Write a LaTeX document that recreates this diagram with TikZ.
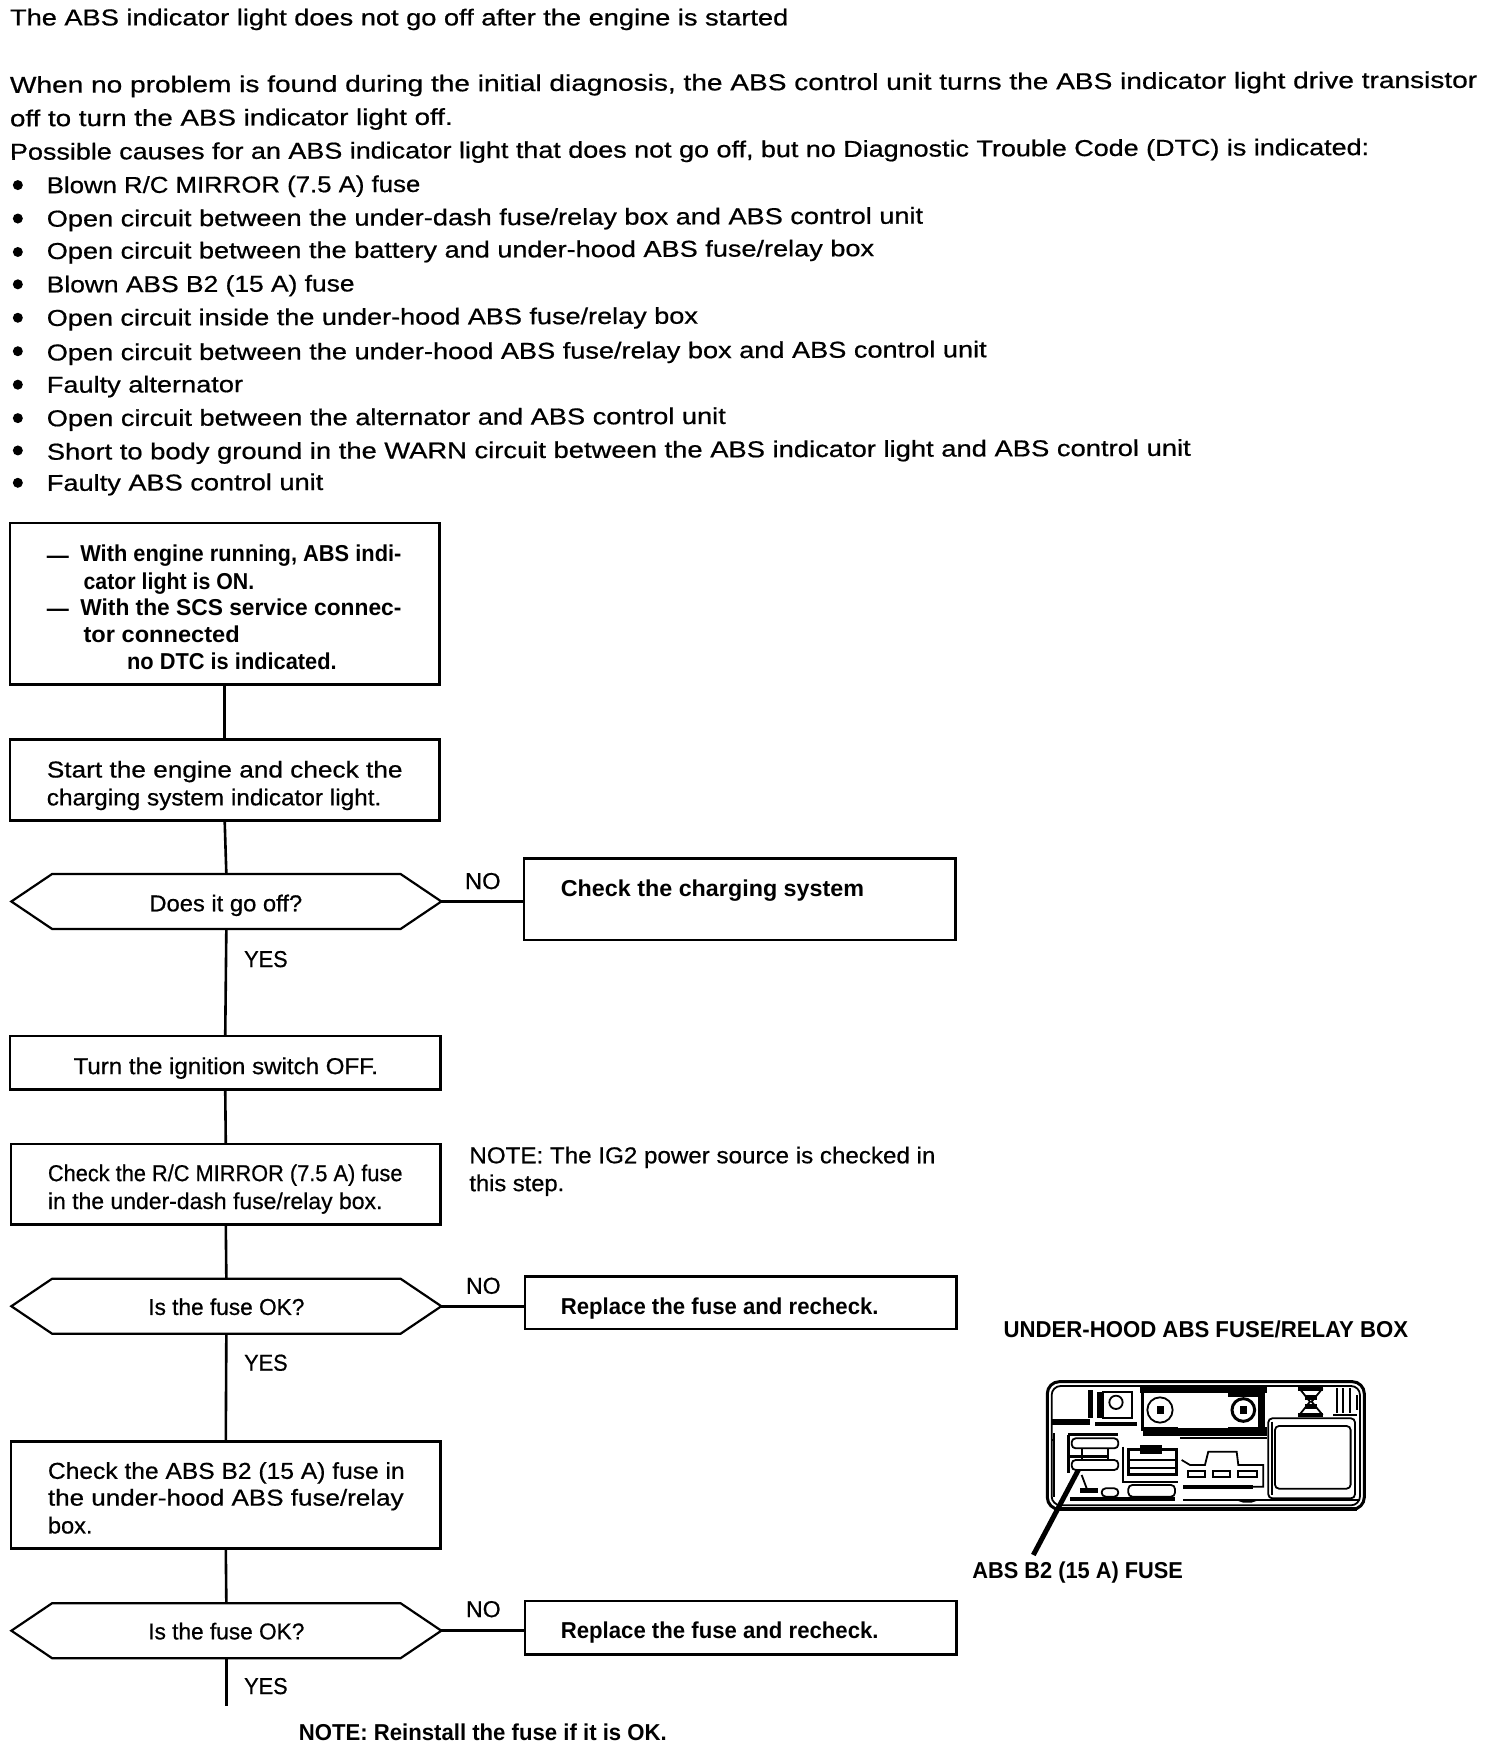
\documentclass[tikz,border=0pt]{standalone}
\usepackage{fontspec}
\usepackage{graphicx}
\setmainfont{Liberation Sans}
\newfontfamily\regfam[FakeBold=0.6]{Liberation Sans}
\usetikzlibrary{shapes.symbols}
\newcommand\regf{\regfam\fontsize{23}{26}\selectfont}
\newcommand\bldf{\fontsize{23}{26}\selectfont\bfseries}
% name, x0, x1, yc, font, text, rotation
\newcommand\tline[7][0]{\pgfmathsetmacro\tlw{(#4-#3)*1.115}%
  \node[txt,rotate=#1] (#2) at (#3,#5) {\resizebox{\tlw pt}{\height}{#6#7}};}
\newcommand\bxn[5]{\pgfmathsetmacro\bxw{(#3-#2)*1.115}\pgfmathsetmacro\bxh{(#5-#4)*1.115}%
  \node[boxst,minimum width=\bxw pt,minimum height=\bxh pt] (#1) at ({(#2+#3)/2},{(#4+#5)/2}) {};}
\newcommand\hxn[3]{\node[hexst] (#1) at (#2,#3) {};}
\tikzset{
  txt/.style={anchor=mid west,inner sep=0pt,outer sep=0pt,text=black,yshift=-5.5pt},
  boxst/.style={draw=black,line width=2.6pt,inner sep=0pt,outer sep=0pt,fill=white},
  hexst/.style={draw=black,line width=2.2pt,shape=signal,signal to=east and west,signal pointer angle=68,
     minimum width=430pt,minimum height=55pt,inner sep=0pt,outer sep=0pt,fill=white},
  conn/.style={draw=black,line width=2.6pt},
  bul/.style={circle,fill=black,minimum size=10pt,inner sep=0pt,outer sep=0pt},
  fb/.style={draw=black,line width=1.8pt},
  fbk/.style={draw=black,line width=3pt},
}
\begin{document}
\begin{tikzpicture}[x=1.115pt,y=-1.115pt]
\useasboundingbox[fill=white] (0,0) rectangle (1334.53,1567.71);
% header
\tline{t1}{9}{707}{15.5}{\regf}{The ABS indicator light does not go off after the engine is started}
\tline[0.2]{t2}{9}{1325}{76}{\regf}{When no problem is found during the initial diagnosis, the ABS control unit turns the ABS indicator light drive transistor}
\tline[0.2]{t3}{9}{406}{106}{\regf}{off to turn the ABS indicator light off.}
\tline[0.2]{t4}{9}{1228}{136}{\regf}{Possible causes for an ABS indicator light that does not go off, but no Diagnostic Trouble Code (DTC) is indicated:}
\foreach \n/\yy in {a/166,b/196,c/226,d/255,e/285,f/315,g/345,h/375,i/404,j/433}{\node[bul] (bul\n) at (16,\yy) {};}
\tline[0.2]{la}{42}{377}{166}{\regf}{Blown R/C MIRROR (7.5 A) fuse}
\tline[0.2]{lb}{42}{828}{196}{\regf}{Open circuit between the under-dash fuse/relay box and ABS control unit}
\tline[0.2]{lc}{42}{784}{225}{\regf}{Open circuit between the battery and under-hood ABS fuse/relay box}
\tline[0.2]{ld}{42}{318}{255}{\regf}{Blown ABS B2 (15 A) fuse}
\tline[0.2]{le}{42}{626}{285}{\regf}{Open circuit inside the under-hood ABS fuse/relay box}
\tline[0.2]{lf}{42}{885}{316}{\regf}{Open circuit between the under-hood ABS fuse/relay box and ABS control unit}
\tline[0.2]{lg}{42}{218}{345}{\regf}{Faulty alternator}
\tline[0.2]{lh}{42}{651}{375}{\regf}{Open circuit between the alternator and ABS control unit}
\tline[0.2]{li}{42}{1068}{405}{\regf}{Short to body ground in the WARN circuit between the ABS indicator light and ABS control unit}
\tline[0.2]{lj}{42}{290}{433}{\regf}{Faulty ABS control unit}
% boxes
\bxn{b1}{9}{394}{469}{614}
\bxn{b2}{9}{394}{663}{736}
\hxn{h1}{203}{808.5}
\bxn{r1}{470}{857}{770}{843}
\bxn{b3}{9}{395}{929}{977}
\bxn{b4}{10}{395}{1026}{1098}
\hxn{h2}{203}{1171.5}
\bxn{r2}{471}{858}{1145}{1192}
\bxn{b5}{10}{395}{1293}{1389}
\hxn{h3}{203}{1462.5}
\bxn{r3}{471}{858}{1436}{1484}
\coordinate (endc) at (203,1530);
% connectors
\draw[conn] (b1.south) -- (b2.north);
\draw[conn] (b2.south) -- (h1.north);
\draw[conn] (h1.south) -- (b3.north);
\draw[conn] (b3.south) -- (b4.north);
\draw[conn] (b4.south) -- (h2.north);
\draw[conn] (h2.south) -- (b5.north);
\draw[conn] (b5.south) -- (h3.north);
\draw[conn] (h3.south) -- (endc);
\draw[conn] (h1.east) -- (h1.east -| r1.west);
\draw[conn] (h2.east) -- (h2.east -| r2.west);
\draw[conn] (h3.east) -- (h3.east -| r3.west);
% box texts
\node[txt] (d1) at (42,498) {\resizebox{22pt}{\height}{\bldf ---}};
\tline{b1a}{72}{360}{496}{\bldf}{With engine running, ABS indi-}
\tline{b1b}{75}{228}{521}{\bldf}{cator light is ON.}
\node[txt] (d2) at (42,546) {\resizebox{22pt}{\height}{\bldf ---}};
\tline{b1c}{72}{360}{545}{\bldf}{With the SCS service connec-}
\tline{b1d}{75}{215}{569}{\bldf}{tor connected}
\tline{b1e}{114}{302}{593}{\bldf}{no DTC is indicated.}
\tline{b2a}{42}{361}{690}{\regf}{Start the engine and check the}
\tline{b2b}{42}{342}{715}{\regf}{charging system indicator light.}
\tline{h1t}{134}{271}{810}{\regf}{Does it go off?}
\tline{r1t}{503}{775}{797}{\bldf}{Check the charging system}
\tline{no1}{417}{449}{790}{\regf}{NO}
\tline{ye1}{219}{258}{860}{\regf}{YES}
\tline{b3t}{66}{339}{956}{\regf}{Turn the ignition switch OFF.}
\tline{b4a}{43}{361}{1052}{\regf}{Check the R/C MIRROR (7.5 A) fuse}
\tline{b4b}{43}{343}{1077}{\regf}{in the under-dash fuse/relay box.}
\tline{na}{421}{839}{1036}{\regf}{NOTE: The IG2 power source is checked in}
\tline{nb}{421}{506}{1061}{\regf}{this step.}
\tline{h2t}{133}{273}{1172}{\regf}{Is the fuse OK?}
\tline{r2t}{503}{788}{1172}{\bldf}{Replace the fuse and recheck.}
\tline{no2}{418}{449}{1153}{\regf}{NO}
\tline{ye2}{219}{258}{1222}{\regf}{YES}
\tline{b5a}{43}{363}{1319}{\regf}{Check the ABS B2 (15 A) fuse in}
\tline{b5b}{43}{362}{1343}{\regf}{the under-hood ABS fuse/relay}
\tline{b5c}{43}{83}{1368}{\regf}{box.}
\tline{h3t}{133}{273}{1463}{\regf}{Is the fuse OK?}
\tline{r3t}{503}{788}{1462}{\bldf}{Replace the fuse and recheck.}
\tline{no3}{418}{449}{1443}{\regf}{NO}
\tline{ye3}{219}{258}{1512}{\regf}{YES}
\tline{nc}{268}{598}{1554}{\bldf}{NOTE: Reinstall the fuse if it is OK.}
\tline{ft}{900}{1263}{1192}{\bldf}{UNDER-HOOD ABS FUSE/RELAY BOX}
\tline{fl}{872}{1061}{1408}{\bldf}{ABS B2 (15 A) FUSE}
% fuse box drawing, in crop coordinates
\begin{scope}[shift={(980pt,-1300pt)},x=0.3333pt,y=-0.3333pt]
\draw[fbk,rounded corners=12pt] (202,245) rectangle (1153,628);
\draw[fb,rounded corners=9pt] (215,258) rectangle (1140,616);
% left dark strip
\fill (215,358) rectangle (330,375);
\fill (345,365) rectangle (470,378);
\fill (325,270) rectangle (340,355);
\fill (480,262) rectangle (860,278);
\fill (350,275) rectangle (366,355);
% square with circle
\draw[fb] (368,275) rectangle (455,355);
\draw[fb] (408,307) circle[radius=20];
% relay block
\draw[line width=3pt] (488,270) rectangle (850,390);
\fill (488,380) rectangle (860,408);
\fill (745,270) rectangle (850,290);
\fill[white] (595,280) rectangle (745,385);
\fill (835,270) rectangle (855,385);
\draw[fb] (540,330) circle[radius=38];
\fill (530,318) rectangle (552,342);
\draw[fbk] (790,330) circle[radius=34];
\fill (780,318) rectangle (802,342);
% large square
\draw[fb,rounded corners=4pt] (885,378) rectangle (1112,566);
\draw[fb,rounded corners=4pt] (865,355) rectangle (1125,595);
\draw[fb] (875,365) -- (875,585);
% hourglass
\fill (955,258) rectangle (1030,272);
\fill (975,285) rectangle (1010,300);
\fill (975,312) rectangle (1010,326);
\fill (955,338) rectangle (1030,352);
\draw[fb] (958,265) -- (990,305) -- (958,345) (1028,265) -- (995,305) -- (1028,345);
% capsules
\draw[fb] (1070,265) -- (1070,340) (1090,265) -- (1090,340) (1110,265) -- (1110,340) (1130,285) -- (1130,330) (1060,345) -- (1130,345);
% fuse slots
\draw[fb,rounded corners=4pt] (275,415) rectangle (415,445);
\draw[fb,rounded corners=4pt] (275,480) rectangle (415,510);
\draw[fbk] (265,405) -- (265,520) (265,405) -- (415,405) (265,470) -- (385,470);
\draw[fb] (305,445) -- (305,480) (385,445) -- (385,480);
\draw[fb] (222,400) -- (222,590);
\draw[fb] (305,525) -- (320,565);
\draw[fb,rounded corners=4pt] (365,565) rectangle (415,590);
\fill (300,565) rectangle (355,578);
\fill (270,592) rectangle (585,602);
% middle small block
\draw[fbk] (445,450) rectangle (590,525);
\draw[fb] (445,480) -- (590,480) (445,505) -- (590,505);
\fill (480,435) rectangle (545,462);
\draw[fb] (430,440) -- (430,545) -- (595,545);
\draw[fb,rounded corners=4pt] (445,555) rectangle (585,590);
% connector shape
\draw[fb] (605,480) -- (630,495) -- (675,495) -- (685,455) -- (770,455) -- (775,495) -- (850,495) -- (850,560) -- (610,560);
\foreach \xa/\xb in {625/675,700/750,775/830}{\draw[fb] (\xa,512) rectangle (\xb,532);}
\fill (610,555) rectangle (820,568);
\draw[fb] (215,420) -- (222,420);
% right rail
\draw[fb] (610,600) -- (1140,600);
\fill (240,622) rectangle (1130,632);
\draw[fb] (775,600) -- (790,605) -- (815,605) -- (830,600);
% line from centre band to large square
\draw[fb] (600,415) -- (860,415);
\coordinate (lead1) at (160,765);
\coordinate (lead2) at (295,510);
\draw[line width=5pt] (lead1) -- (lead2);
\end{scope}
\end{tikzpicture}
\end{document}
